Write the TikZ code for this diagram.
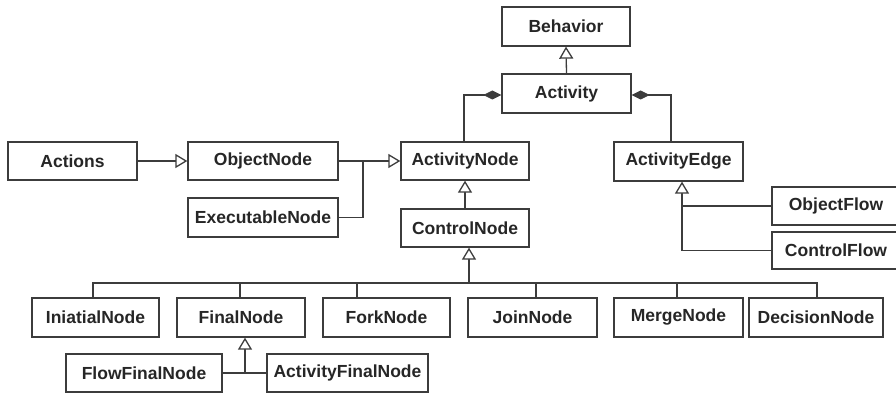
\documentclass[tikz,border=0pt]{standalone}
\usepackage{fontspec}
\setmainfont{Liberation Sans}
\usetikzlibrary{arrows.meta}
\definecolor{linec}{HTML}{3C3C3C}
\definecolor{textc}{HTML}{262626}
\begin{document}
\begin{tikzpicture}[x=1pt,y=-1pt,
  cls/.style={draw=linec, line width=1.3pt, fill=white, inner sep=0pt,
    minimum height=38pt, text=textc,
    font=\fontsize{17.5}{20}\selectfont\bfseries},
  link/.style={draw=linec, line width=1.3pt},
  gen/.style={link, -{Triangle[open, length=12pt, width=14pt, line width=1.3pt, fill=white]}},
  comp/.style={link, {Diamond[length=18pt, width=9pt, line width=0.8pt]}-}]
\useasboundingbox (0,0) rectangle (896,393);
\fill[white] (0,0) rectangle (896,393);

% upper part of the hierarchy
\node[cls, minimum width=128pt, minimum height=39pt] (behavior) at (566,26.5) {Behavior};
\node[cls, minimum width=129pt, minimum height=39pt] (activity) at (566.5,93.5) {Activity};
\node[cls, minimum width=129pt] (actions) at (72.5,161) {Actions};
\node[cls, minimum width=150pt] (objnode) at (263,161) {ObjectNode};
\node[cls, minimum width=150pt, minimum height=39pt] (execnode) at (263,217.5) {ExecutableNode};
\node[cls, minimum width=128pt] (actnode) at (465,161) {ActivityNode};
\node[cls, minimum width=128pt] (ctrlnode) at (465,228) {ControlNode};
\node[cls, minimum width=129pt, minimum height=39pt] (actedge) at (678.5,161.5) {ActivityEdge};
\node[cls, minimum width=128pt] (objflow) at (836,206) {ObjectFlow};
\node[cls, minimum width=128pt, minimum height=37pt] (ctrlflow) at (836,250.5) {ControlFlow};

% control node kinds
\node[cls, minimum width=127pt, minimum height=39pt] (initial) at (95.5,317.5) {IniatialNode};
\node[cls, minimum width=128pt, minimum height=39pt] (final) at (241,317.5) {FinalNode};
\node[cls, minimum width=127pt, minimum height=39pt] (fork) at (386.5,317.5) {ForkNode};
\node[cls, minimum width=129pt, minimum height=39pt] (join) at (532.5,317.5) {JoinNode};
\node[cls, minimum width=129pt, minimum height=39pt] (merge) at (678.5,317.5) {MergeNode};
\node[cls, minimum width=134pt, minimum height=39pt] (decision) at (816,317.5) {DecisionNode};
\node[cls, minimum width=156pt] (flowfinal) at (144,373) {FlowFinalNode};
\node[cls, minimum width=161pt] (actfinal) at (347.5,373) {ActivityFinalNode};

% junction points
\coordinate (objjoin) at (363,161);
\coordinate (edgejoin) at (682,206);
\coordinate (bus) at (469,283);
\coordinate (finaljoin) at (245,372);

% generalizations
\draw[gen] (activity.north) -- (behavior.south);
\draw[gen] (actions.east) -- (objnode.west);
\draw[gen] (objnode.east) -- (actnode.west);
\draw[link] (execnode.east) -| (objjoin);
\draw[gen] (ctrlnode.north) -- (actnode.south);
\draw[gen] (edgejoin) -- ([xshift=3.5pt]actedge.south);
\draw[link] (objflow.west) -- (edgejoin);
\draw[link] (ctrlflow.west) -| (edgejoin);
\draw[gen] (bus) -- ([xshift=4pt]ctrlnode.south);
\draw[link] (initial.north) ++(-2.5,0) |- (bus);
\draw[link] (final.north) ++(-1,0) |- (bus);
\draw[link] ([xshift=-29.5pt]fork.north) |- (bus);
\draw[link] ([xshift=3.5pt]join.north) |- (bus);
\draw[link] ([xshift=-1.5pt]merge.north) |- (bus);
\draw[link] ([xshift=1pt]decision.north) |- (bus);
\draw[gen] (finaljoin) -- ([xshift=4pt]final.south);
\draw[link] (flowfinal.east) -- (actfinal.west);

% compositions
\draw[comp] ([yshift=-1.5pt]activity.west) -| ([xshift=-1pt]actnode.north);
\draw[comp] ([yshift=-1.5pt]activity.east) -| ([xshift=-7.5pt]actedge.north);
\end{tikzpicture}
\end{document}
